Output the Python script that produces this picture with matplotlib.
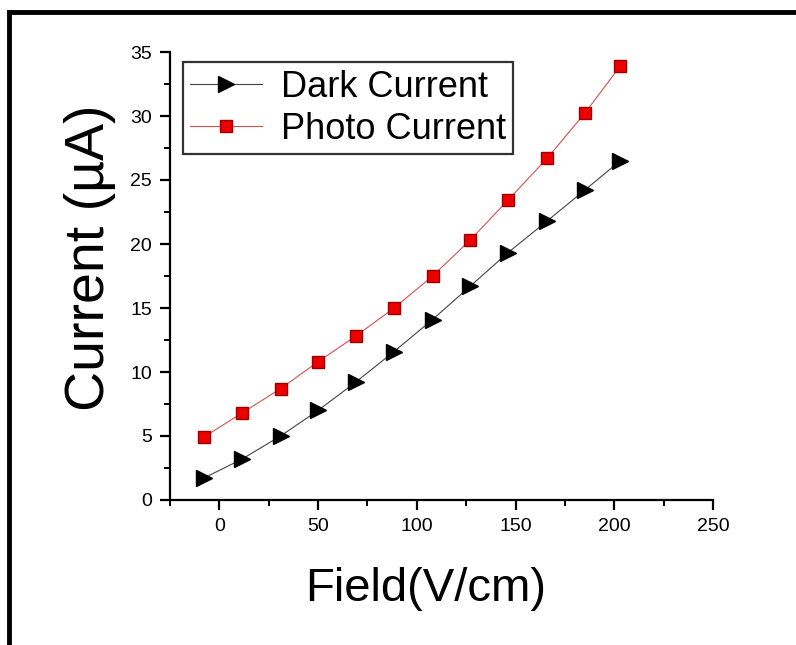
import matplotlib.pyplot as plt
from matplotlib.lines import Line2D
from matplotlib.ticker import MultipleLocator

plt.rcParams['font.family'] = ['Liberation Sans', 'DejaVu Sans']

# data
field = [-8, 11.5, 31, 50, 69, 88.5, 108, 127, 146, 166, 185, 203]
dark_current = [1.7, 3.2, 5.0, 7.0, 9.2, 11.6, 14.1, 16.7, 19.3, 21.8, 24.2, 26.5]
photo_current = [4.9, 6.8, 8.7, 10.8, 12.8, 15.0, 17.5, 20.3, 23.4, 26.7, 30.2, 33.9]

fig = plt.figure(figsize=(7.96, 6.45), dpi=100)
ax = fig.add_axes([170/796, 1 - 500/645, (713 - 170)/796, (500 - 52)/645])

ax.plot(field, dark_current, color='#444444', lw=0.8, marker='>', ms=11,
        mfc='black', mec='black', label='Dark Current')
ax.plot(field, photo_current, color='#d85050', lw=0.8, marker='s', ms=8.5,
        mfc='#ee0000', mec='#990000', mew=1, label='Photo Current')

ax.set_xlim(-25, 250)
ax.set_ylim(0, 35)
ax.xaxis.set_major_locator(MultipleLocator(50))
ax.xaxis.set_minor_locator(MultipleLocator(25))
ax.yaxis.set_major_locator(MultipleLocator(5))
ax.yaxis.set_minor_locator(MultipleLocator(2.5))

for side in ['top', 'right']:
    ax.spines[side].set_visible(False)
for side in ['left', 'bottom']:
    ax.spines[side].set_linewidth(1.6)

ax.tick_params(which='major', direction='out', length=7, width=1.6, labelsize=14, pad=6)
ax.tick_params(which='minor', direction='out', length=4, width=1.4)

ax.set_xlabel('Field(V/cm)', fontsize=34)
ax.set_ylabel('Current (µA)', fontsize=40)
ax.xaxis.set_label_coords(0.47, -0.15)
ax.yaxis.set_label_coords(-0.10, 0.54)

leg = ax.legend(loc='upper left', bbox_to_anchor=(0.024, 0.977), fontsize=26,
                frameon=True, fancybox=False, edgecolor='black',
                handlelength=2.0, handletextpad=0.5, borderpad=0.2,
                labelspacing=0.2, borderaxespad=0)
leg.get_frame().set_linewidth(1.6)

# black frame around the picture (top and left edges)
fig.add_artist(Line2D([9/796, 1], [1 - 12/645, 1 - 12/645], color='black', lw=3.5,
                      transform=fig.transFigure))
fig.add_artist(Line2D([9/796, 9/796], [0, 1 - 12/645], color='black', lw=3.5,
                      transform=fig.transFigure))

fig.savefig('out.png', dpi=100)
